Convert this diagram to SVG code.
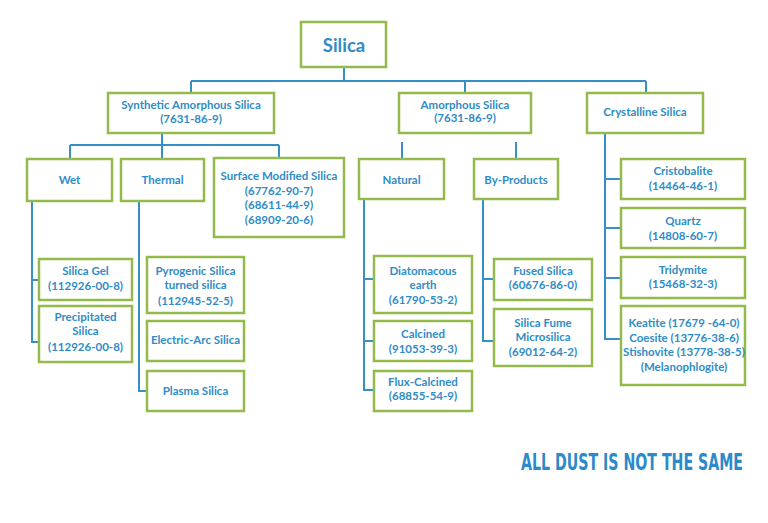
<svg xmlns="http://www.w3.org/2000/svg" width="768" height="523" viewBox="0 0 768 523">
<style>
.box{fill:#fff;stroke:#94BA4B;stroke-width:2.5}
.t{font-family:Lato,"Liberation Sans",sans-serif;font-weight:bold;font-size:11.5px;fill:#2F8CC6;text-anchor:middle}
.big{font-size:18.5px}
.con path{fill:none;stroke:#3590C8;stroke-width:2}
.tag{font-family:"DejaVu Sans Condensed","Liberation Sans Narrow",sans-serif;font-weight:bold;font-size:17px;fill:#2B8ACB}
</style>
<rect width="768" height="523" fill="#fff"/>
<g class="con" id="connectors">
<path d="M344 67V81M191 81H646M191 81V93M465 81V93M646 81V93"/>
<path d="M162 133V145M70 145H279M70 145V159M162 145V159M279 145V158"/>
<path d="M32 201V342H39M32 280H39"/>
<path d="M139 201V391H147"/>
<path d="M402 142V159M516 142V159"/>
<path d="M364 199V390H374M364 279H374M364 341H374"/>
<path d="M483 199V341H494M483 279H494"/>
<path d="M605 133V339H621M605 179H621M605 228H621M605 278H621"/>
</g>
<g id="silica"><rect class="box" x="301" y="22" width="85" height="45"/><text class="t big" x="344" y="51.5">Silica</text></g>
<g id="synthetic"><rect class="box" x="108" y="93" width="166" height="40"/><text class="t" x="191" y="109">Synthetic Amorphous Silica</text><text class="t" x="191" y="123">(7631-86-9)</text></g>
<g id="amorphous"><rect class="box" x="399" y="93" width="132" height="40"/><text class="t" x="465" y="109">Amorphous Silica</text><text class="t" x="465" y="122">(7631-86-9)</text></g>
<g id="crystalline"><rect class="box" x="587" y="93" width="116" height="40"/><text class="t" x="645" y="116">Crystalline Silica</text></g>
<g id="wet"><rect class="box" x="27" y="159" width="85" height="42"/><text class="t" x="69.5" y="184">Wet</text></g>
<g id="thermal"><rect class="box" x="121" y="159" width="83" height="42"/><text class="t" x="162.5" y="184">Thermal</text></g>
<g id="surface"><rect class="box" x="214" y="158" width="130" height="79"/><text class="t" x="279" y="180">Surface Modified Silica</text><text class="t" x="279" y="194.5">(67762-90-7)</text><text class="t" x="279" y="209">(68611-44-9)</text><text class="t" x="279" y="223.5">(68909-20-6)</text></g>
<g id="natural"><rect class="box" x="359" y="159" width="85" height="40"/><text class="t" x="401.5" y="183.5">Natural</text></g>
<g id="byproducts"><rect class="box" x="474" y="159" width="84" height="40"/><text class="t" x="516" y="183.5">By-Products</text></g>
<g id="cristobalite"><rect class="box" x="621" y="159" width="124" height="40"/><text class="t" x="683" y="175">Cristobalite</text><text class="t" x="683" y="189.5">(14464-46-1)</text></g>
<g id="quartz"><rect class="box" x="621" y="208" width="124" height="40"/><text class="t" x="683" y="225">Quartz</text><text class="t" x="683" y="240">(14808-60-7)</text></g>
<g id="tridymite"><rect class="box" x="621" y="257" width="124" height="41"/><text class="t" x="683" y="273.5">Tridymite</text><text class="t" x="683" y="288">(15468-32-3)</text></g>
<g id="keatite"><rect class="box" x="621" y="306" width="124" height="79"/><text class="t" x="684" y="327">Keatite (17679 -64-0)</text><text class="t" x="684" y="341.5">Coesite (13776-38-6)</text><text class="t" x="684" y="356">Stishovite (13778-38-5)</text><text class="t" x="684" y="370.5">(Melanophlogite)</text></g>
<g id="silicagel"><rect class="box" x="39" y="259" width="93" height="41"/><text class="t" x="85.5" y="274.5">Silica Gel</text><text class="t" x="85.5" y="289.5">(112926-00-8)</text></g>
<g id="precipitated"><rect class="box" x="39" y="306" width="93" height="56"/><text class="t" x="85.5" y="321">Precipitated</text><text class="t" x="85.5" y="335">Silica</text><text class="t" x="85.5" y="350.5">(112926-00-8)</text></g>
<g id="pyrogenic"><rect class="box" x="147" y="257" width="97" height="56"/><text class="t" x="195.5" y="274.5">Pyrogenic Silica</text><text class="t" x="195.5" y="289">turned silica</text><text class="t" x="195.5" y="304.5">(112945-52-5)</text></g>
<g id="electricarc"><rect class="box" x="147" y="321" width="97" height="40"/><text class="t" x="195.5" y="344">Electric-Arc Silica</text></g>
<g id="plasma"><rect class="box" x="147" y="371" width="97" height="40"/><text class="t" x="195.5" y="394.5">Plasma Silica</text></g>
<g id="diatomacous"><rect class="box" x="374" y="256" width="98" height="57"/><text class="t" x="423" y="274.5">Diatomacous</text><text class="t" x="423" y="289">earth</text><text class="t" x="423" y="304">(61790-53-2)</text></g>
<g id="calcined"><rect class="box" x="374" y="321" width="98" height="40"/><text class="t" x="423" y="338">Calcined</text><text class="t" x="423" y="353">(91053-39-3)</text></g>
<g id="fluxcalcined"><rect class="box" x="374" y="371" width="98" height="40"/><text class="t" x="423" y="385.5">Flux-Calcined</text><text class="t" x="423" y="400">(68855-54-9)</text></g>
<g id="fused"><rect class="box" x="494" y="259" width="98" height="41"/><text class="t" x="543" y="274.5">Fused Silica</text><text class="t" x="543" y="289">(60676-86-0)</text></g>
<g id="fume"><rect class="box" x="494" y="309" width="98" height="57"/><text class="t" x="543" y="326.5">Silica Fume</text><text class="t" x="543" y="341">Microsilica</text><text class="t" x="543" y="355.5">(69012-64-2)</text></g>
<text class="tag" transform="translate(521 470) scale(1 1.4)" x="0" y="0" textLength="222" lengthAdjust="spacingAndGlyphs">ALL DUST IS NOT THE SAME</text>
</svg>
